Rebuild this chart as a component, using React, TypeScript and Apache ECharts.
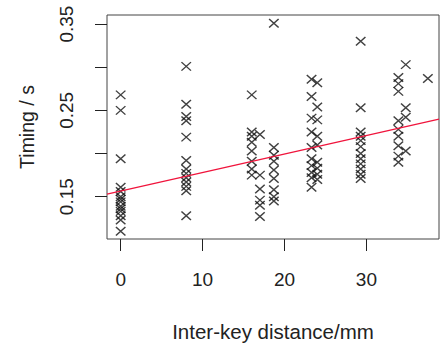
import React, { useEffect, useRef } from "react";
import * as echarts from "echarts";

// Inter-key distance (mm) for each column of observations
const keyDistances = [0, 8, 16, 17, 18.7, 23.3, 24.0, 29.3, 33.9, 34.8, 37.5];

// Timing observations (s) for each distance above
const timingsAt0 = [0.268, 0.25, 0.194, 0.161, 0.156, 0.15, 0.147, 0.144, 0.139, 0.136, 0.133, 0.128, 0.123, 0.11];
const timingsAt8 = [0.301, 0.257, 0.243, 0.238, 0.219, 0.192, 0.182, 0.177, 0.172, 0.167, 0.162, 0.157, 0.128];
const timingsAt16 = [0.268, 0.225, 0.22, 0.213, 0.203, 0.191, 0.182, 0.175];
const timingsAt17 = [0.222, 0.175, 0.159, 0.146, 0.14, 0.127];
const timingsAt18_7 = [0.351, 0.207, 0.198, 0.191, 0.181, 0.171, 0.158, 0.15, 0.145];
const timingsAt23_3 = [0.286, 0.266, 0.241, 0.225, 0.207, 0.194, 0.186, 0.178, 0.172, 0.161];
const timingsAt24 = [0.282, 0.254, 0.239, 0.22, 0.21, 0.19, 0.183, 0.176, 0.17];
const timingsAt29_3 = [0.33, 0.253, 0.225, 0.22, 0.215, 0.208, 0.2, 0.194, 0.188, 0.182, 0.176, 0.171];
const timingsAt33_9 = [0.288, 0.281, 0.272, 0.238, 0.228, 0.22, 0.209, 0.197, 0.19];
const timingsAt34_8 = [0.303, 0.253, 0.242, 0.203];
const timingsAt37_5 = [0.287];

const timingGroups = [
  timingsAt0, timingsAt8, timingsAt16, timingsAt17, timingsAt18_7,
  timingsAt23_3, timingsAt24, timingsAt29_3, timingsAt33_9, timingsAt34_8, timingsAt37_5,
];

// Least-squares fit line
const fitIntercept = 0.1566;
const fitSlope = 0.00214;

// Axis ranges and ticks
const xMin = -1.67;
const xMax = 38.86;
const yMin = 0.101;
const yMax = 0.3605;
const xTicks = [0, 10, 20, 30];
const yTicks = [0.15, 0.2, 0.25, 0.3, 0.35];
const yTickLabels = [0.15, 0.25, 0.35];

const FONT = "Liberation Sans, Arial, sans-serif";
const TEXT = "#222";

export default function App() {
  const ref = useRef<HTMLDivElement>(null);
  useEffect(() => {
    document.body.style.margin = "0";
    const chart = echarts.init(ref.current!, null, { renderer: "svg" });
    const points: number[][] = [];
    keyDistances.forEach((d, i) => {
      timingGroups[i].forEach((t) => points.push([d, t]));
    });
    const fitLine = [xMin, xMax].map((x) => [x, fitIntercept + fitSlope * x]);
    chart.setOption({
      animation: false,
      backgroundColor: "#fff",
      grid: {
        left: 107,
        right: 1,
        top: 15,
        bottom: 107,
        show: true,
        borderColor: "#444",
        borderWidth: 1,
        backgroundColor: "transparent",
      },
      xAxis: {
        type: "value",
        position: "bottom",
        min: xMin,
        max: xMax,
        axisLine: { show: false, onZero: false },
        splitLine: { show: false },
        axisTick: { show: true, inside: false, customValues: xTicks, length: 12, lineStyle: { color: "#222" } },
        axisLabel: {
          customValues: xTicks,
          margin: 31,
          fontSize: 19,
          color: TEXT,
          fontFamily: FONT,
        },
        name: "Inter-key distance/mm",
        nameLocation: "middle",
        nameGap: 82,
        nameTextStyle: { fontSize: 20.5, color: TEXT, fontFamily: FONT },
      },
      yAxis: {
        type: "value",
        position: "left",
        min: yMin,
        max: yMax,
        axisLine: { show: false, onZero: false },
        splitLine: { show: false },
        axisTick: { show: true, inside: false, customValues: yTicks, length: 12, lineStyle: { color: "#222" } },
        axisLabel: {
          customValues: yTickLabels,
          rotate: 90,
          margin: 31,
          fontSize: 19,
          color: TEXT,
          fontFamily: FONT,
          formatter: (v: number) => v.toFixed(2),
        },
        name: "Timing / s",
        nameLocation: "middle",
        nameRotate: 90,
        nameGap: 70,
        nameTextStyle: { fontSize: 19.5, color: TEXT, fontFamily: FONT },
      },
      series: [
        {
          type: "scatter",
          data: points,
          symbol: "path://M0,0L10,10M10,0L0,10",
          symbolSize: [9.5, 8.5],
          itemStyle: { color: "transparent", borderColor: "#111", borderWidth: 1.4 },
          emphasis: { disabled: true },
          z: 3,
        },
        {
          type: "line",
          data: fitLine,
          showSymbol: false,
          symbol: "none",
          lineStyle: { color: "#f0143c", width: 1.3 },
          z: 4,
        },
      ],
    });
    return () => chart.dispose();
  }, []);
  return <div ref={ref} style={{ width: 440, height: 347 }} />;
}
